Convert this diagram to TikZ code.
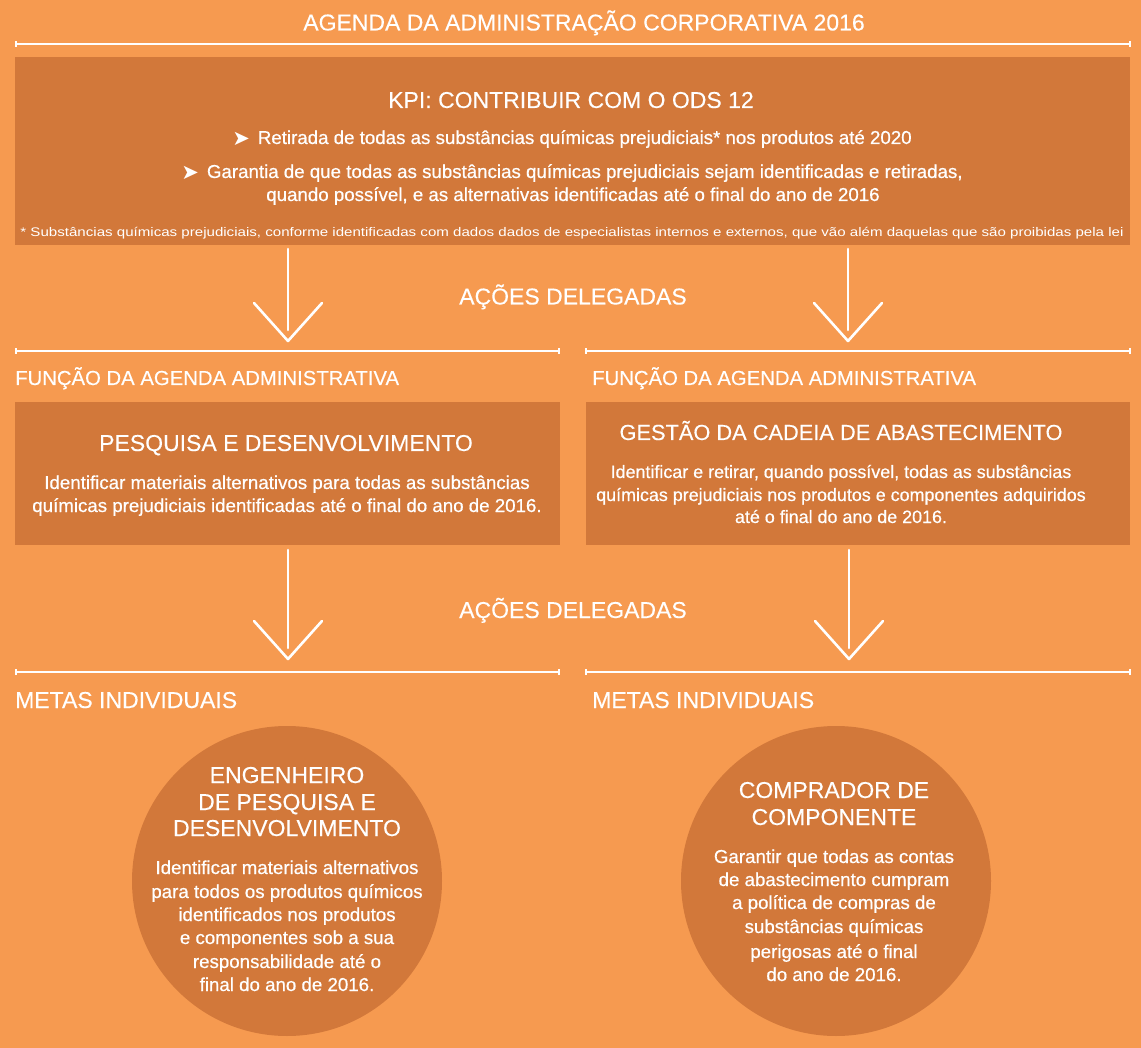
\documentclass[tikz,border=0pt]{standalone}
\usepackage{graphicx}
\usepackage{fontspec}
\setmainfont{Liberation Sans}
\newfontfamily\djv{DejaVu Sans}
\newfontfamily\medf[FakeBold=0.6]{Liberation Sans}
\newfontfamily\ttlf[FakeBold=0.25]{Liberation Sans}
\definecolor{bg}{HTML}{F69A50}
\definecolor{boxc}{HTML}{D2783A}
\newcommand\dnarrow[3]{%
  \draw[arr] (#1,#2) -- (#1,#2+#3);
  \draw[arr] (#1-34,#2+#3-27) -- (#1,#2+#3+11) -- (#1+34,#2+#3-27);}
\newcommand\tickrule[4]{% name, x1, x2, y
  \coordinate (#1a) at (#2,#4); \coordinate (#1b) at (#3,#4);
  \draw[rule] (#1a) -- (#1b);
  \draw[rule] ([yshift=-3pt]#1a) -- ([yshift=3pt]#1a);
  \draw[rule] ([yshift=-3pt]#1b) -- ([yshift=3pt]#1b);}
\newcommand\bul{\raisebox{-1.5pt}{\djv\fontsize{21}{22}\selectfont ➤}\hspace{8pt}}
\begin{document}
\begin{tikzpicture}[x=1pt,y=-1pt,
  txt/.style={text=white, anchor=base, inner sep=0pt},
  ttl/.style={txt, font=\ttlf\fontsize{23}{27}\selectfont},
  sub/.style={txt, font=\medf\fontsize{18.7}{22}\selectfont},
  rule/.style={draw=white, line width=1.4pt},
  arr/.style={draw=white, line width=2.6pt, line cap=round, line join=round},
  panel/.style={fill=boxc, inner sep=0pt, anchor=north west},
  disc/.style={circle, fill=boxc, inner sep=0pt, minimum size=310pt}]
\fill[bg] (0,0) rectangle (1141,1048);
\useasboundingbox (0,0) rectangle (1141,1048);

% top
\node[ttl] (title) at (584,30.5) {AGENDA DA ADMINISTRAÇÃO CORPORATIVA 2016};
\tickrule{r0}{16}{1130}{44}
\node[panel, minimum width=1115pt, minimum height=188pt] (kpi) at (15,57) {};
\node[ttl] (kpit) at (571,108) {KPI: CONTRIBUIR COM O ODS 12};
\node[sub] (b1) at (572,144) {\bul Retirada de todas as substâncias químicas prejudiciais* nos produtos até 2020};
\node[sub] (b2) at (572,178) {\bul Garantia de que todas as substâncias químicas prejudiciais sejam identificadas e retiradas,};
\node[sub] (b3) at (573,201) {quando possível, e as alternativas identificadas até o final do ano de 2016};
\node[txt, font=\fontsize{12.5}{14}\selectfont] (fn) at (572,236.5) {\resizebox{1103pt}{\height}{* Substâncias químicas prejudiciais, conforme identificadas com dados dados de especialistas internos e externos, que vão além daquelas que são proibidas pela lei}};

% arrows 1
\dnarrow{288}{249}{81}
\dnarrow{848}{249}{81}
\node[ttl] (acao1) at (573,304.5) {AÇÕES DELEGADAS};

% function level
\tickrule{r1}{16}{559}{351}
\tickrule{r2}{586}{1130}{351}
\node[ttl, font=\ttlf\fontsize{20.3}{25}\selectfont, anchor=base west] (f1) at (15,385) {FUNÇÃO DA AGENDA ADMINISTRATIVA};
\node[ttl, font=\ttlf\fontsize{20.3}{25}\selectfont, anchor=base west] (f2) at (592,385) {FUNÇÃO DA AGENDA ADMINISTRATIVA};
\node[panel, minimum width=545pt, minimum height=143pt] (pd) at (15,402) {};
\node[panel, minimum width=544pt, minimum height=143pt] (gc) at (586,402) {};
\node[ttl] (pdt) at (286,451) {PESQUISA E DESENVOLVIMENTO};
\node[sub] (pd1) at (287,489) {Identificar materiais alternativos para todas as substâncias};
\node[sub] (pd2) at (287,512) {químicas prejudiciais identificadas até o final do ano de 2016.};
\node[ttl, font=\ttlf\fontsize{21.8}{26}\selectfont] (gct) at (841,440) {GESTÃO DA CADEIA DE ABASTECIMENTO};
\node[sub, font=\medf\fontsize{17.9}{21}\selectfont] (gc1) at (841,478) {Identificar e retirar, quando possível, todas as substâncias};
\node[sub, font=\medf\fontsize{17.9}{21}\selectfont] (gc2) at (841,501) {químicas prejudiciais nos produtos e componentes adquiridos};
\node[sub, font=\medf\fontsize{17.9}{21}\selectfont] (gc3) at (841,523) {até o final do ano de 2016.};

% arrows 2
\dnarrow{288}{550}{98}
\dnarrow{849}{550}{98}
\node[ttl] (acao2) at (573,618) {AÇÕES DELEGADAS};

% individual level
\tickrule{r3}{16}{559}{672}
\tickrule{r4}{586}{1130}{672}
\node[ttl, anchor=base west] (m1) at (15,708) {METAS INDIVIDUAIS};
\node[ttl, anchor=base west] (m2) at (592,708) {METAS INDIVIDUAIS};

\node[disc] (c1) at (287,881) {};
\node[disc] (c2) at (836,881) {};

\node[ttl] at (287,783) {ENGENHEIRO};
\node[ttl] at (287,810) {DE PESQUISA E};
\node[ttl] at (287,836) {DESENVOLVIMENTO};
\node[sub] at (287,874) {Identificar materiais alternativos};
\node[sub] at (287,898) {para todos os produtos químicos};
\node[sub] at (287,921) {identificados nos produtos};
\node[sub] at (287,944) {e componentes sob a sua};
\node[sub] at (287,968) {responsabilidade até o};
\node[sub] at (287,991) {final do ano de 2016.};

\node[ttl] at (834,798) {COMPRADOR DE};
\node[ttl] at (834,825) {COMPONENTE};
\node[sub] at (834,863) {Garantir que todas as contas};
\node[sub] at (834,886) {de abastecimento cumpram};
\node[sub] at (834,909) {a política de compras de};
\node[sub] at (834,933) {substâncias químicas};
\node[sub] at (834,958) {perigosas até o final};
\node[sub] at (834,981) {do ano de 2016.};
\end{tikzpicture}
\end{document}
